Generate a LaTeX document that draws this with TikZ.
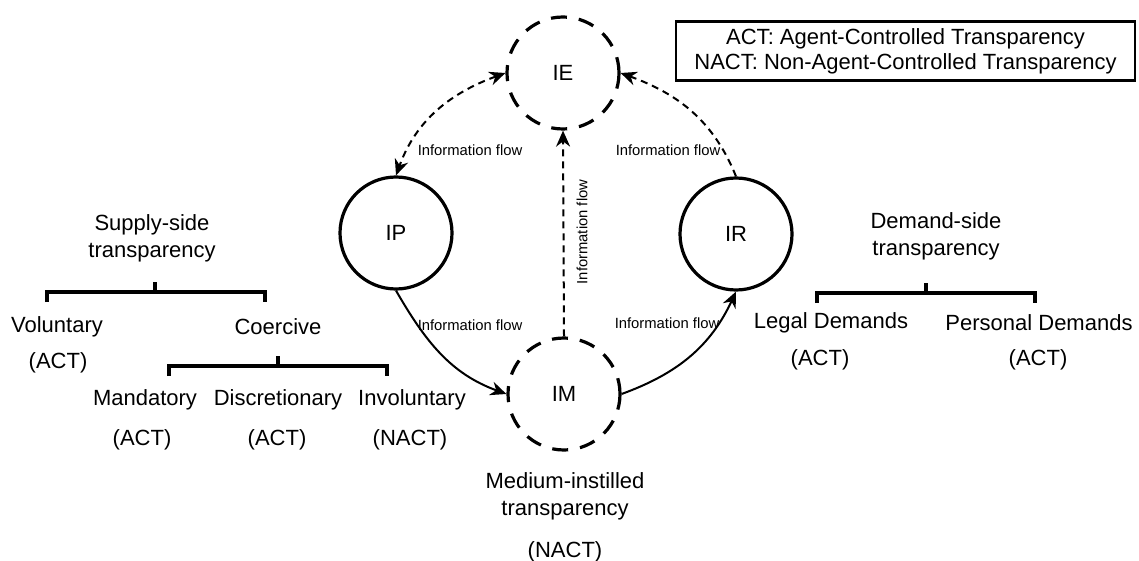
\documentclass[tikz,border=0pt]{standalone}
\usepackage{fontspec}
\setmainfont{Liberation Sans}
\usetikzlibrary{arrows.meta}
\def\treebar(#1:#2:#3:#4){\draw[bracket] (#1,#4+10) -- (#1,#4) -- (#3,#4) -- (#3,#4+10); \draw[bracket] (#2,#4) -- (#2,#4-10);}
\tikzset{
	actor/.style={circle, draw, line width=1.6pt, minimum size=56pt, inner sep=0pt, font=\fontsize{11}{13.5}\selectfont},
	medium/.style={actor, dash pattern=on 8pt off 6pt},
	flow/.style={line width=1pt},
	dflow/.style={flow, dash pattern=on 3.5pt off 2.5pt},
	flowlbl/.style={font=\fontsize{7.4}{9}\selectfont},
	lbl/.style={align=center, font=\fontsize{11}{13.5}\selectfont},
	bracket/.style={line width=1.8pt},
}

\begin{document}
\begin{tikzpicture}[x=0.5pt, y=-0.5pt, >={Stealth[length=8pt,width=7pt]}]
			%%%%% START %%%%%
			\useasboundingbox (0,0) rectangle (1139,561);
			
			\node[medium] (ie) at (563,73) {IE};
			\node[actor] (ip) at (396,233) {IP};
			\node[actor] (ir) at (736,234) {IR};
			\node[medium] (im) at (564,394) {IM};
			
			\draw[dflow, <->] (ie.west) to[out=200, in=70] (ip.north);
			\draw[dflow, ->] (ir.north) to[out=112, in=-20] (ie.east);
			\draw[dflow, ->] (im.north) -- (ie.south);
			\draw[flow, ->] (ip.south) to[out=-60, in=160] (im.west);
			\draw[flow, ->] (im.east) to[out=20, in=-115] (ir.south);
			
			\node[flowlbl] (f1) at (470,150) {Information flow};
			\node[flowlbl] (f2) at (668,150) {Information flow};
			\node[flowlbl, rotate=90] (f3) at (582,232) {Information flow};
			\node[flowlbl] (f4) at (470,325) {Information flow};
			\node[flowlbl] (f5) at (667,323) {Information flow};
			
			\node[draw, line width=1.3pt, minimum width=229.5pt, minimum height=29pt, lbl, font=\fontsize{11}{12.5}\selectfont] (key) at (905.5,51) {ACT: Agent-Controlled Transparency\\NACT: Non-Agent-Controlled Transparency};
			
			% supply side
			\node[lbl] (supply) at (152,238.5) {Supply-side\\transparency};
			\treebar(47:155:265:292)
			\node[lbl] (vol) at (57,327) {Voluntary};
			\node[lbl] (volact) at (58,363) {(ACT)};
			\node[lbl] (coe) at (278,327) {Coercive};
			\treebar(169:278:387:366)
			\node[lbl] (man) at (145,400) {Mandatory};
			\node[lbl] (dis) at (278,400) {Discretionary};
			\node[lbl] (inv) at (412,400) {Involuntary};
			\node[lbl] (manact) at (142,440) {(ACT)};
			\node[lbl] (disact) at (277,440) {(ACT)};
			\node[lbl] (invact) at (410,440) {(NACT)};
			
			% medium
			\node[lbl] (medium) at (565,496.5) {Medium-instilled\\transparency};
			\node[lbl] (medact) at (565,552) {(NACT)};
			
			% demand side
			\node[lbl] (demand) at (936,236.5) {Demand-side\\transparency};
			\treebar(817:926:1035:293)
			\node[lbl] (legal) at (831,323) {Legal Demands};
			\node[lbl] (pers) at (1039,323) {Personal Demands};
			\node[lbl] (legact) at (820,360) {(ACT)};
			\node[lbl] (persact) at (1038,360) {(ACT)};
			
			%%%%% END %%%%%
\end{tikzpicture}
\end{document}
